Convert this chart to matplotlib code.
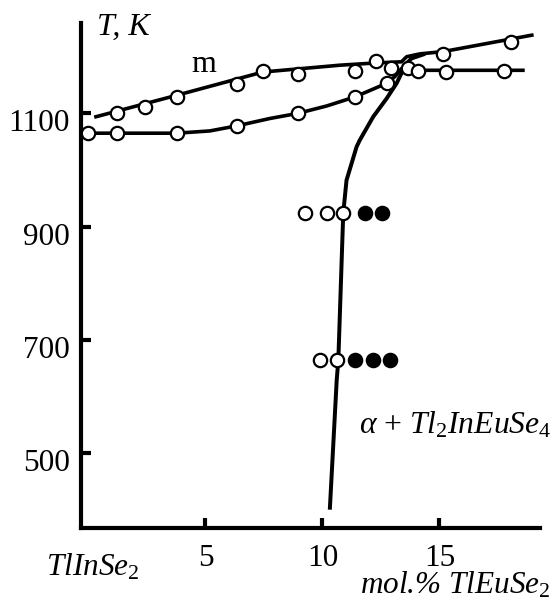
import matplotlib
matplotlib.use("Agg")
import matplotlib.pyplot as plt
from matplotlib.transforms import ScaledTranslation

plt.rcParams['font.family'] = ['Liberation Serif', 'DejaVu Serif']
plt.rcParams['mathtext.fontset'] = 'custom'
plt.rcParams['mathtext.rm'] = 'Liberation Serif'
plt.rcParams['mathtext.it'] = 'Liberation Serif:italic'
plt.rcParams['mathtext.bf'] = 'Liberation Serif:bold'

# ---- data (mol.% TlEuSe2, T in K) ----
upper_line_x = [0.32, 3.78, 7.46, 10.75, 12.29, 13.38, 13.6, 14.17, 15.16, 18.95]
upper_line_T = [1094, 1132, 1173, 1185, 1189, 1191, 1200, 1205, 1209, 1238]

lower_line_x = [0.0, 3.78, 5.19, 6.35, 7.76, 8.95, 10.18, 11.39, 12.74, 13.1, 13.38, 13.67, 14.08, 18.57]
lower_line_T = [1065, 1065, 1069, 1078, 1091, 1100, 1113, 1129, 1153, 1165, 1179, 1180, 1176, 1176]

steep_line_x = [10.32, 10.61, 10.68, 10.89, 11.03, 11.46, 11.6, 12.17, 12.74, 13.17, 13.38, 13.6, 13.81, 14.31]
steep_line_T = [404, 629, 665, 924, 982, 1041, 1053, 1094, 1126, 1153, 1171, 1188, 1197, 1204]

open_x = [1.22, 2.41, 3.78, 6.35, 7.46, 8.95, 11.39, 12.29, 12.93, 15.15, 18.05,
          13.67, 14.08, 15.28, 17.76,
          0.0, 1.22, 3.78, 6.35, 8.95, 11.39, 12.76,
          9.25, 10.18, 10.89,
          9.89, 10.61]
open_T = [1100, 1111, 1129, 1152, 1175, 1169, 1175, 1192, 1180, 1205, 1226,
          1180, 1175, 1173, 1175,
          1065, 1065, 1065, 1078, 1100, 1129, 1153,
          924, 924, 924,
          665, 665]

filled_x = [11.82, 12.53, 11.39, 12.15, 12.88]
filled_T = [924, 924, 665, 665, 665]

xticks = [5, 10, 15]
yticks = [500, 700, 900, 1100]

W, H = 555, 615
fig = plt.figure(figsize=(W / 100, H / 100), dpi=100)
ax = fig.add_axes([81 / W, 1 - 527.7 / H, (540 - 81) / W, (527.7 - 22.7) / H])
ax.set_xlim(-0.32, 19.3)
ax.set_ylim(368.7, 1260)

lw = 2.6
for sp in ['top', 'right']:
    ax.spines[sp].set_visible(False)
for sp in ['left', 'bottom']:
    ax.spines[sp].set_linewidth(3.0)

ax.plot(upper_line_x, upper_line_T, color='black', lw=lw, clip_on=False, zorder=2)
ax.plot(lower_line_x, lower_line_T, color='black', lw=lw, clip_on=False, zorder=2)
ax.plot(steep_line_x, steep_line_T, color='black', lw=lw * 1.1, clip_on=False, zorder=2)

ax.plot(open_x, open_T, 'o', ms=9.6, mfc='white', mec='black', mew=1.6,
        ls='none', clip_on=False, zorder=3)
ax.plot(filled_x, filled_T, 'o', ms=9.6, mfc='black', mec='black', mew=1.6,
        ls='none', clip_on=False, zorder=3)

ax.set_xticks(xticks)
ax.set_yticks(yticks)
ax.set_xticklabels([str(v) for v in xticks])
ax.set_yticklabels([str(v) for v in yticks])
ax.tick_params(direction='in', length=7, width=3, labelsize=22.5, pad=8)
ax.tick_params(axis='x', pad=12)
for lab in ax.get_yticklabels():
    lab.set_transform(lab.get_transform() + ScaledTranslation(0, -7 / 100, fig.dpi_scale_trans))

def fx(px):
    return px / W

def fy(py):
    return 1 - py / H

fig.text(fx(97), fy(35), "T, K", fontsize=23, style='italic', va='baseline', ha='left')
fig.text(fx(191), fy(71.7), "m", fontsize=23, va='baseline', ha='left')
fig.text(fx(359), fy(433), r"$\alpha$ + $Tl_2InEuSe_4$", fontsize=22.8, va='baseline', ha='left')
fig.text(fx(46), fy(576), r"$TlInSe_2$", fontsize=22.5, va='baseline', ha='left')
fig.text(fx(360), fy(593), r"mol.% $TlEuSe_2$", fontsize=22.5, style='italic', va='baseline', ha='left')

fig.savefig("out.png", dpi=100)
